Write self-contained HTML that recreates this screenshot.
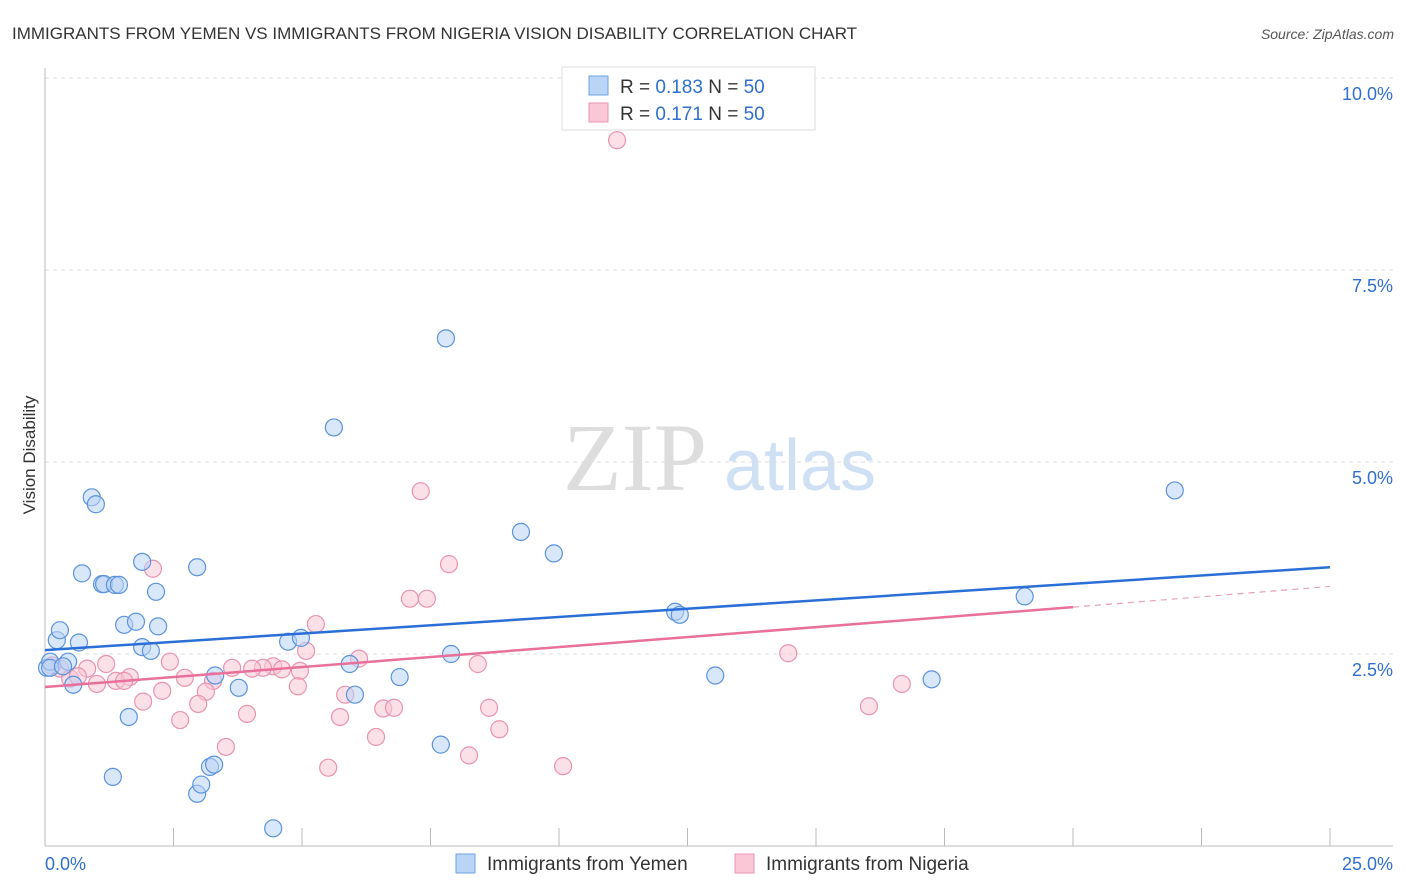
<!DOCTYPE html>
<html><head><meta charset="utf-8"><style>
body{margin:0;background:#fff;font-family:"Liberation Sans",sans-serif;}
svg{display:block}
</style></head><body>
<svg id="chart" width="1406" height="892" xmlns="http://www.w3.org/2000/svg">
<text x="12" y="39" font-size="17" fill="#333">IMMIGRANTS FROM YEMEN VS IMMIGRANTS FROM NIGERIA VISION DISABILITY CORRELATION CHART</text>
<text x="1394" y="39" font-size="14" fill="#555" font-style="italic" text-anchor="end">Source: ZipAtlas.com</text>
<text x="35" y="455" font-size="17" fill="#333" text-anchor="middle" transform="rotate(-90 35 455)">Vision Disability</text>
<g><text x="635" y="490" font-size="96" fill="#ddd" font-family="Liberation Serif,serif" text-anchor="middle">ZIP</text><text x="800" y="490" font-size="72" fill="#cfe0f4" text-anchor="middle">atlas</text></g>
<g id="grid"></g><g id="axes"></g><g id="marks"></g>
<g>
<rect x="562" y="67" width="253" height="63" fill="#fff" stroke="#ddd"/>
<rect x="589" y="76" width="19" height="19" fill="#b9d4f5" stroke="#6ea1e0"/>
<rect x="589" y="103" width="19" height="19" fill="#f9c7d6" stroke="#e993b0"/>
<text x="620" y="93" font-size="19" fill="#333">R = <tspan fill="#2f6fd0">0.183</tspan>   N = <tspan fill="#2f6fd0">50</tspan></text>
<text x="620" y="120" font-size="19" fill="#333">R =  <tspan fill="#2f6fd0">0.171</tspan>   N = <tspan fill="#2f6fd0">50</tspan></text>
</g>
<g>
<rect x="456" y="854" width="19" height="19" fill="#b9d4f5" stroke="#6ea1e0"/>
<text x="487" y="870" font-size="19" fill="#333">Immigrants from Yemen</text>
<rect x="735" y="854" width="19" height="19" fill="#f9c7d6" stroke="#e993b0"/>
<text x="766" y="870" font-size="19" fill="#333">Immigrants from Nigeria</text>
</g>
</svg>
<script>
const yTicks=[2.5,5.0,7.5,10.0];
const yTickLabels=["2.5%","5.0%","7.5%","10.0%"];
const xTickCount=10;
const xTickLabels=["0.0%","25.0%"];
const yemenX=[0.04,0.23,0.29,0.10,0.45,0.55,0.66,0.72,0.91,0.99,1.11,1.15,1.36,1.44,1.32,1.54,1.63,1.77,1.89,1.89,2.06,2.16,2.20,2.96,2.96,3.04,3.21,3.29,3.31,3.77,4.44,4.73,4.98,5.62,5.93,6.03,6.90,7.70,7.80,7.90,9.26,9.90,12.26,12.35,13.04,17.25,19.06,21.98,0.10,0.35];
const yemenY=[2.32,2.68,2.81,2.40,2.40,2.10,2.65,3.55,4.54,4.45,3.41,3.41,3.40,3.40,0.90,2.88,1.68,2.92,3.70,2.59,2.54,3.31,2.86,3.63,0.68,0.80,1.03,1.06,2.22,2.06,0.23,2.66,2.71,5.45,2.37,1.97,2.20,1.32,6.61,2.50,4.09,3.81,3.05,3.01,2.22,2.17,3.25,4.63,2.32,2.34];
const nigeriaX=[11.13,7.31,7.86,2.10,7.10,7.43,5.27,5.08,6.11,4.96,8.42,14.46,4.44,4.61,4.24,3.64,4.03,2.43,1.19,0.82,0.29,0.14,0.49,0.64,1.65,1.38,1.54,2.72,3.27,1.01,2.28,3.13,4.92,5.84,6.58,6.79,8.64,16.03,16.67,1.91,2.63,2.98,3.93,5.74,6.44,8.84,3.52,8.25,5.51,10.08];
const nigeriaY=[9.19,4.62,3.67,3.61,3.22,3.22,2.89,2.54,2.44,2.28,2.37,2.51,2.34,2.30,2.32,2.32,2.31,2.40,2.37,2.31,2.31,2.35,2.18,2.21,2.20,2.15,2.15,2.19,2.15,2.11,2.02,2.01,2.08,1.97,1.79,1.80,1.80,1.82,2.11,1.88,1.64,1.85,1.72,1.68,1.42,1.52,1.29,1.18,1.02,1.04];
const yemenTrend=[2.55,3.63];
const nigeriaTrend=[2.07,3.11,3.38];
const NS="http://www.w3.org/2000/svg";
const X0=45,X1=1330,Y0=846,PXPER=192/2.5;
function sx(v){return X0+(v/25)*(X1-X0);}
function sy(v){return Y0-v*PXPER;}
function mk(tag,attrs,parent){const e=document.createElementNS(NS,tag);for(const k in attrs)e.setAttribute(k,attrs[k]);parent.appendChild(e);return e;}
const grid=document.getElementById('grid'),axes=document.getElementById('axes'),marks=document.getElementById('marks');
yTicks.forEach((t,i)=>{
  const l=mk('line',{x1:X0,x2:1393,y1:sy(t),y2:sy(t),stroke:'#ddd','stroke-dasharray':'4,4'},grid);
  
  
  const tx=mk('text',{x:1393,y:sy(t)+22,'font-size':18,fill:'#2f6fd0','text-anchor':'end'},axes);
  tx.textContent=yTickLabels[i];
  
  
});
const ax=mk('line',{x1:X0,x2:X0,y1:68,y2:Y0,stroke:'#bbb'},axes);


const bx=mk('line',{x1:X0,x2:1393,y1:Y0,y2:Y0,stroke:'#bbb'},axes);


for(let i=1;i<=xTickCount;i++){
  const xx=sx(25*i/xTickCount);
  const t=mk('line',{x1:xx,x2:xx,y1:828,y2:Y0,stroke:'#bbb'},axes);
  
  
}
const xl0=mk('text',{x:45,y:870,'font-size':18,fill:'#2f6fd0'},axes);xl0.textContent=xTickLabels[0];


const xl1=mk('text',{x:1393,y:870,'font-size':18,fill:'#2f6fd0','text-anchor':'end'},axes);xl1.textContent=xTickLabels[1];


function pts(xs,ys,fill,stroke,name){
  xs.forEach((v,i)=>{
    const c=mk('circle',{cx:sx(v),cy:sy(ys[i]),r:8.5,fill:fill,'fill-opacity':0.55,stroke:stroke,'stroke-width':1.2},marks);
    
    
  });
}
pts(nigeriaX,nigeriaY,'#f9c7d6','#e993b0','nigeria-point');
pts(yemenX,yemenY,'#b9d4f5','#5b93dc','yemen-point');
const bt=mk('line',{x1:sx(0),y1:sy(yemenTrend[0]),x2:sx(25),y2:sy(yemenTrend[1]),stroke:'#2a6fd6','stroke-width':2.5},marks);


const pt=mk('line',{x1:sx(0),y1:sy(nigeriaTrend[0]),x2:sx(20),y2:sy(nigeriaTrend[1]),stroke:'#e8709a','stroke-width':2.5},marks);


const pd=mk('line',{x1:sx(20),y1:sy(nigeriaTrend[1]),x2:sx(25),y2:sy(nigeriaTrend[2]),stroke:'#e8a0b8','stroke-width':1.2,'stroke-dasharray':'6,5'},marks);


</script>
</body></html>
